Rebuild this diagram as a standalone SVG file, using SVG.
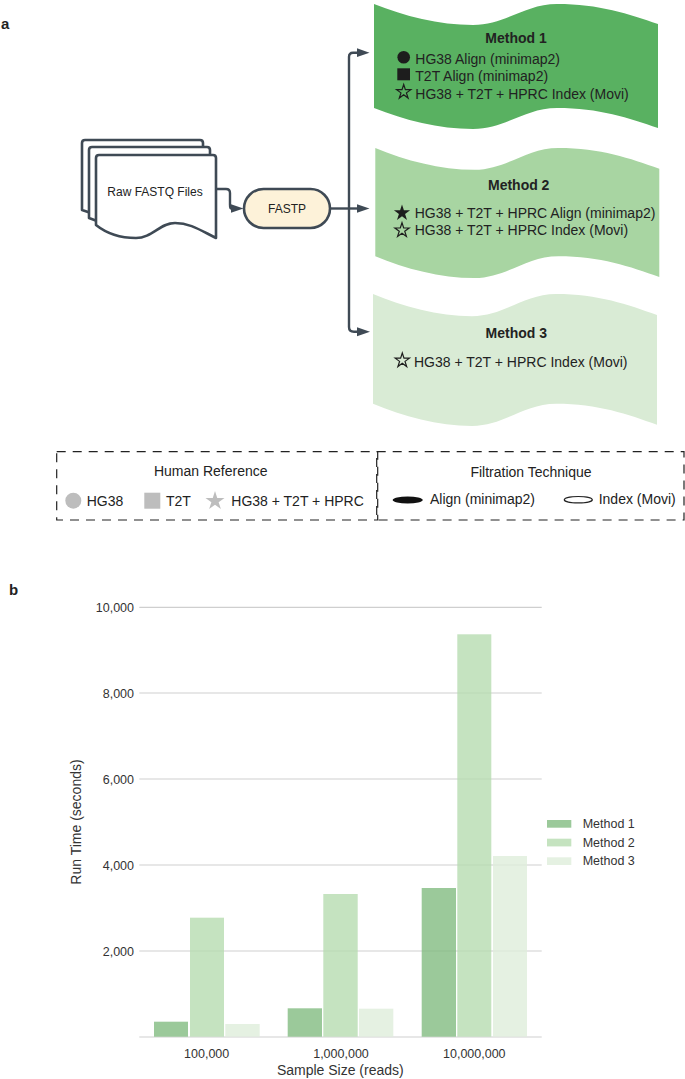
<svg xmlns="http://www.w3.org/2000/svg" xmlns:xlink="http://www.w3.org/1999/xlink" width="685" height="1079" viewBox="0 0 685 1079">
<style>
text{font-family:"Liberation Sans",Arial,sans-serif;fill:#222}
.t14{font-size:14px}
.t12{font-size:12px}
.t125{font-size:12.5px;fill:#333}
.ax{font-size:14px;fill:#333}
.b{font-weight:bold}
.m{text-anchor:middle}
.e{text-anchor:end}
.doc{fill:#fff;stroke:#3f4a55;stroke-width:2.6;stroke-linejoin:round}
.con{fill:none;stroke:#3f4a55;stroke-width:2.4}
.dash{fill:none;stroke:#222;stroke-width:1.2;stroke-dasharray:9 7}
.grid{stroke:#cfcfcf;stroke-width:1.2}
.s1{fill:#82bb81;fill-opacity:.8}
.s2{fill:#b6dcb0;fill-opacity:.8}
.s3{fill:#deeddb;fill-opacity:.8}
.gr{fill:#bdbdbd}
</style>
<defs>
<path id="wave" d="M0,0 C30,12 65,21 99,21 C131,21 151,0 183,0 C225,0 255,10 284,20 V124 C255,114 225,104 183,104 C151,104 131,125 99,125 C65,125 30,116 0,104 Z"/>
<polygon id="star" points="0,-10 2.245,-3.09 9.51,-3.09 3.63,1.18 5.88,8.09 0,3.82 -5.88,8.09 -3.63,1.18 -9.51,-3.09 -2.245,-3.09"/>
<marker id="arr" markerUnits="userSpaceOnUse" markerWidth="14" markerHeight="10" refX="0.5" refY="4.5" orient="auto"><path d="M0,0 L13,4.5 L0,9 Z" fill="#3f4a55"/></marker>
</defs>
<text x="1" y="29" class="t14 b" style="font-size:15px">a</text>
<text x="9" y="595" class="t14 b" style="font-size:15px">b</text>
<g id="connectors">
<path class="con" d="M217,189 H226 Q230,189 230,193 V204.500 Q230,208.500 231,208.500" marker-end="url(#arr)"/>
<path class="con" d="M330,208.500 H357" marker-end="url(#arr)"/>
<path class="con" d="M349,208.500 V57 Q349,52.700 353,52.700 H357" marker-end="url(#arr)"/>
<path class="con" d="M349,208.500 V327 Q349,331.700 354,331.700 H357.500" marker-end="url(#arr)"/>
</g>
<g id="raw-fastq">
<path class="doc" d="M82,210 V143 Q82,140 85,140 H200 Q203,140 203,143 V200 H100 V216 Z"/>
<path class="doc" d="M89,218 V150 Q89,147 92,147 H207 Q210,147 210,150 V200 H105 V224 Z"/>
<path class="doc" d="M96,225 V158 Q96,155 99,155 H213 Q216,155 216,158 V238 C200,230 190,223 175,223 C160,223 152,238 136,238 C118,238 106,233 96,225 Z"/>
<text x="155" y="195.500" class="t12 m">Raw FASTQ Files</text>
</g>
<g id="fastp">
<rect x="244" y="189" width="86" height="39" rx="19.500" fill="#fdf2d9" stroke="#3f4a55" stroke-width="2.600"/>
<text x="287" y="212.500" class="t12 m">FASTP</text>
</g>
<g id="method-1">
<use xlink:href="#wave" href="#wave" transform="translate(374,4)" fill="#59b161"/>
<text x="516" y="42.700" class="t14 b m">Method 1</text>
<circle cx="403.700" cy="57.300" r="6.300" fill="#1d1d1d"/>
<text x="415.300" y="64" class="t14">HG38 Align (minimap2)</text>
<rect x="397.300" y="68.300" width="12.700" height="12" fill="#1d1d1d"/>
<text x="415.300" y="81" class="t14">T2T Align (minimap2)</text>
<use xlink:href="#star" href="#star" transform="translate(403.700,92) scale(.75)" fill="none" stroke="#1d1d1d" stroke-width="1.600"/>
<text x="415.300" y="98.700" class="t14">HG38 + T2T + HPRC Index (Movi)</text>
</g>
<g id="method-2">
<use xlink:href="#wave" href="#wave" transform="translate(375.300,148) scale(1,1.040)" fill="#a8d5a2"/>
<text x="518.700" y="189.700" class="t14 b m">Method 2</text>
<use xlink:href="#star" href="#star" transform="translate(402,213) scale(.85)" fill="#1d1d1d"/>
<text x="414.700" y="218" class="t14">HG38 + T2T + HPRC Align (minimap2)</text>
<use xlink:href="#star" href="#star" transform="translate(402,230.300) scale(.75)" fill="none" stroke="#1d1d1d" stroke-width="1.600"/>
<text x="414.700" y="235" class="t14">HG38 + T2T + HPRC Index (Movi)</text>
</g>
<g id="method-3">
<use xlink:href="#wave" href="#wave" transform="translate(373,294) scale(1,1.055)" fill="#d9ebd5"/>
<text x="516.300" y="337.700" class="t14 b m">Method 3</text>
<use xlink:href="#star" href="#star" transform="translate(402.300,360.500) scale(.75)" fill="none" stroke="#1d1d1d" stroke-width="1.600"/>
<text x="414" y="367" class="t14">HG38 + T2T + HPRC Index (Movi)</text>
</g>
<g id="legend-reference">
<rect class="dash" x="56.700" y="451.700" width="321" height="68.300"/>
<text x="210.700" y="475.700" class="t14 m">Human Reference</text>
<circle class="gr" cx="73.300" cy="500.700" r="8"/>
<text x="86.700" y="506" class="t14">HG38</text>
<rect class="gr" x="144.300" y="492.700" width="16" height="16"/>
<text x="166" y="506" class="t14">T2T</text>
<use xlink:href="#star" href="#star" transform="translate(215,501)" class="gr"/>
<text x="231.300" y="506" class="t14">HG38 + T2T + HPRC</text>
</g>
<g id="legend-filtration">
<rect class="dash" x="376.700" y="451.700" width="307.300" height="68.300"/>
<text x="531" y="477.300" class="t14 m">Filtration Technique</text>
<ellipse cx="407.700" cy="500" rx="15" ry="3.500" fill="#111"/>
<text x="430" y="504" class="t14">Align (minimap2)</text>
<ellipse cx="578.300" cy="499.700" rx="14" ry="3.200" fill="#fff" stroke="#222" stroke-width="1.200"/>
<text x="598.700" y="504" class="t14">Index (Movi)</text>
</g>
<g id="chart">
<line class="grid" x1="139.300" x2="541.700" y1="607.300" y2="607.300"/>
<line class="grid" x1="139.300" x2="541.700" y1="693" y2="693"/>
<line class="grid" x1="139.300" x2="541.700" y1="779" y2="779"/>
<line class="grid" x1="139.300" x2="541.700" y1="865" y2="865"/>
<line class="grid" x1="139.300" x2="541.700" y1="951" y2="951"/>
<line class="grid" x1="139.300" x2="541.700" y1="1037" y2="1037"/>
<rect class="s1" x="154" y="1021.700" width="34" height="15"/>
<rect class="s2" x="190" y="917.700" width="34" height="119"/>
<rect class="s3" x="225.300" y="1024" width="34.400" height="12.700"/>
<rect class="s1" x="287.700" y="1008.300" width="34.300" height="28.400"/>
<rect class="s2" x="323.300" y="894" width="34.400" height="142.700"/>
<rect class="s3" x="359" y="1008.700" width="34.300" height="28"/>
<rect class="s1" x="421.700" y="888" width="34.300" height="148.700"/>
<rect class="s2" x="457.300" y="634.300" width="34" height="402.400"/>
<rect class="s3" x="493" y="856" width="34" height="180.700"/>
<text x="134" y="612" class="t125 e">10,000</text>
<text x="134" y="698" class="t125 e">8,000</text>
<text x="134" y="784" class="t125 e">6,000</text>
<text x="134" y="870" class="t125 e">4,000</text>
<text x="134" y="956" class="t125 e">2,000</text>
<text x="206.700" y="1058" class="t125 m">100,000</text>
<text x="341" y="1058" class="t125 m">1,000,000</text>
<text x="474.300" y="1058" class="t125 m">10,000,000</text>
<text x="340.300" y="1075" class="ax m">Sample Size (reads)</text>
<text transform="translate(81,822) rotate(-90)" class="ax m">Run Time (seconds)</text>
<rect class="s1" x="547" y="820" width="24.300" height="7.700"/>
<rect class="s2" x="547" y="838.700" width="24.300" height="7.700"/>
<rect class="s3" x="547" y="857.300" width="24.300" height="7.700"/>
<text x="582.700" y="828" class="t125">Method 1</text>
<text x="582.700" y="846.700" class="t125">Method 2</text>
<text x="582.700" y="865.300" class="t125">Method 3</text>
</g>
</svg>
